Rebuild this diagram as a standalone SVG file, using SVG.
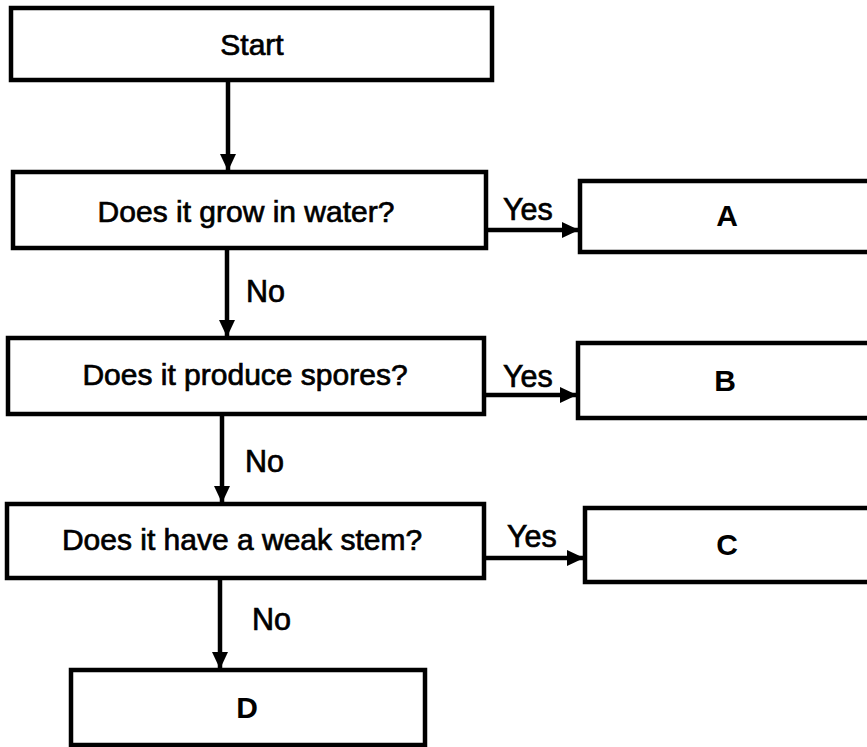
<svg xmlns="http://www.w3.org/2000/svg" width="867" height="747" viewBox="0 0 867 747">
<defs>
<style>
.box{fill:#fff;stroke:#000;stroke-width:4.5}
.t{font-family:"Liberation Sans",Arial,sans-serif;font-size:30px;fill:#000;text-anchor:middle;stroke:#000;stroke-width:0.7}
.k{font-family:"Liberation Sans",Arial,sans-serif;font-weight:bold;font-size:30px;fill:#000;text-anchor:middle}
.lbl{font-family:"Liberation Sans",Arial,sans-serif;font-size:30.5px;fill:#000;stroke:#000;stroke-width:0.7}
.c{fill:none;stroke:#000;stroke-width:4.5}
</style>
<marker id="ah" markerUnits="userSpaceOnUse" markerWidth="18" markerHeight="18" refX="17" refY="9" orient="auto">
<path d="M0,1 L17,9 L0,17 Z" fill="#000"/>
</marker>
</defs>
<rect width="867" height="747" fill="#fff"/>
<g id="start"><rect class="box" x="11" y="8" width="481" height="72"/><text class="t" x="252" y="55">Start</text></g>
<g id="q1"><rect class="box" x="13" y="172" width="473" height="76"/><text class="t" x="246" y="222">Does it grow in water?</text></g>
<g id="q2"><rect class="box" x="8" y="338" width="476" height="76"/><text class="t" x="245" y="385">Does it produce spores?</text></g>
<g id="q3"><rect class="box" x="7" y="504" width="477" height="74"/><text class="t" x="242" y="550">Does it have a weak stem?</text></g>
<g id="a"><rect class="box" x="580" y="181" width="300" height="71"/><text class="k" x="727" y="226">A</text></g>
<g id="b"><rect class="box" x="578" y="343" width="300" height="75"/><text class="k" x="725" y="391">B</text></g>
<g id="c"><rect class="box" x="585" y="508" width="300" height="74"/><text class="k" x="727" y="555">C</text></g>
<g id="d"><rect class="box" x="71" y="670" width="354" height="75"/><text class="k" x="247" y="718">D</text></g>
<g id="connectors">
<line class="c" x1="228" y1="80" x2="228" y2="171" marker-end="url(#ah)"/>
<line class="c" x1="227" y1="248" x2="227" y2="337" marker-end="url(#ah)"/>
<line class="c" x1="222" y1="414" x2="222" y2="503" marker-end="url(#ah)"/>
<line class="c" x1="220" y1="578" x2="220" y2="669" marker-end="url(#ah)"/>
<line class="c" x1="486" y1="230" x2="579" y2="230" marker-end="url(#ah)"/>
<line class="c" x1="484" y1="395" x2="577" y2="395" marker-end="url(#ah)"/>
<line class="c" x1="486" y1="558" x2="584" y2="558" marker-end="url(#ah)"/>
<text class="lbl" x="503" y="220">Yes</text>
<text class="lbl" x="503" y="387">Yes</text>
<text class="lbl" x="507" y="547">Yes</text>
<text class="lbl" x="246" y="302">No</text>
<text class="lbl" x="245" y="472">No</text>
<text class="lbl" x="252" y="630">No</text>
</g>
</svg>
